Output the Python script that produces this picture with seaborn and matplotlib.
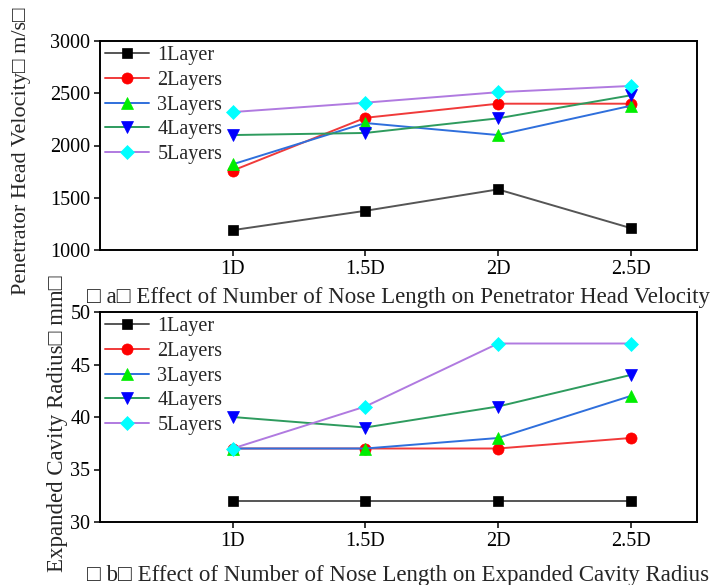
import matplotlib
matplotlib.use("Agg")
import matplotlib.pyplot as plt
import seaborn as sns
import pandas as pd

# ---- data ----
categories = ["1D", "1.5D", "2D", "2.5D"]
series_names = ["1Layer", "2Layers", "3Layers", "4Layers", "5Layers"]

velocity_1 = [1190, 1375, 1580, 1210]
velocity_2 = [1760, 2265, 2400, 2400]
velocity_3 = [1820, 2215, 2100, 2380]
velocity_4 = [2100, 2120, 2260, 2480]
velocity_5 = [2320, 2410, 2510, 2570]

radius_1 = [32, 32, 32, 32]
radius_2 = [37, 37, 37, 38]
radius_3 = [37, 37, 38, 42]
radius_4 = [40, 39, 41, 44]
radius_5 = [37, 41, 47, 47]

velocity_ticks = [1000, 1500, 2000, 2500, 3000]
radius_ticks = [30, 35, 40, 45, 50]

ylabel_a = "Penetrator Head Velocity\u25a1 m/s\u25a1"
ylabel_b = "Expanded Cavity Radius\u25a1 mm\u25a1"
caption_a = "\u25a1 a\u25a1 Effect of Number of Nose Length on Penetrator Head Velocity"
caption_b = "\u25a1 b\u25a1 Effect of Number of Nose Length on Expanded Cavity Radius"

# ---- styles ----
line_colors = ["#555555", "#f03a3a", "#2f6fdc", "#2e9b5e", "#b07ae0"]
marker_colors = ["#000000", "#ff0000", "#00ee00", "#0000ff", "#00ffff"]
markers = ["s", "o", "^", "v", "D"]
marker_sizes = [7.5, 8, 8.5, 8.5, 7]

sns.set_theme(style="ticks")
plt.rcParams["font.family"] = ["Liberation Serif", "DejaVu Sans"]
plt.rcParams["axes.linewidth"] = 1.4
plt.rcParams["xtick.major.width"] = 1.1
plt.rcParams["ytick.major.width"] = 1.1
plt.rcParams["xtick.major.size"] = 4
plt.rcParams["ytick.major.size"] = 4

fig = plt.figure(figsize=(7.12, 5.85), dpi=100)
W, H = 712, 585
ax_a = fig.add_axes([100 / W, 1 - 250 / H, 597 / W, 209 / H])
ax_b = fig.add_axes([100 / W, 1 - 522 / H, 597 / W, 210 / H])

vel = [velocity_1, velocity_2, velocity_3, velocity_4, velocity_5]
rad = [radius_1, radius_2, radius_3, radius_4, radius_5]


def draw(ax, values, yticks, ylim, ylabel, label_xy, label_size):
    for i, name in enumerate(series_names):
        df = pd.DataFrame({"x": categories, "y": values[i]})
        sns.lineplot(data=df, x="x", y="y", ax=ax, sort=False,
                     color=line_colors[i], linewidth=1.4,
                     marker=markers[i], markersize=marker_sizes[i],
                     markerfacecolor=marker_colors[i],
                     markeredgecolor=marker_colors[i], markeredgewidth=0.5,
                     label=name)
    ax.set_xlim(-1, 3.5)
    ax.set_ylim(*ylim)
    ax.set_yticks(yticks)
    ax.set_xlabel("")
    ax.set_ylabel(ylabel, fontsize=label_size)
    ax.yaxis.label.set(va="center", ha="center", rotation_mode="default")
    ax.yaxis.set_label_coords(*label_xy)
    ax.tick_params(axis="both", labelsize=14.5, colors="black", direction="out",
                   pad=3)
    for s in ax.spines.values():
        s.set_visible(True)
        s.set_color("black")
    ax.legend(loc="upper left", frameon=False, fontsize=14.5,
              handlelength=2.2, handletextpad=0.4, labelspacing=0.28,
              borderaxespad=0.1, borderpad=0.15)


draw(ax_a, vel, velocity_ticks, (1000, 3000), ylabel_a, (-0.132, 0.474), 16)
draw(ax_b, rad, radius_ticks, (30, 50), ylabel_b, (-0.072, 0.47), 16.5)

fig.text(87 / W, 1 - 297 / H, caption_a, fontsize=16.5, ha="left", va="center")
fig.text(87 / W, 1 - 575 / H, caption_b, fontsize=16.5, ha="left", va="center")

fig.savefig("out.png", dpi=100)
